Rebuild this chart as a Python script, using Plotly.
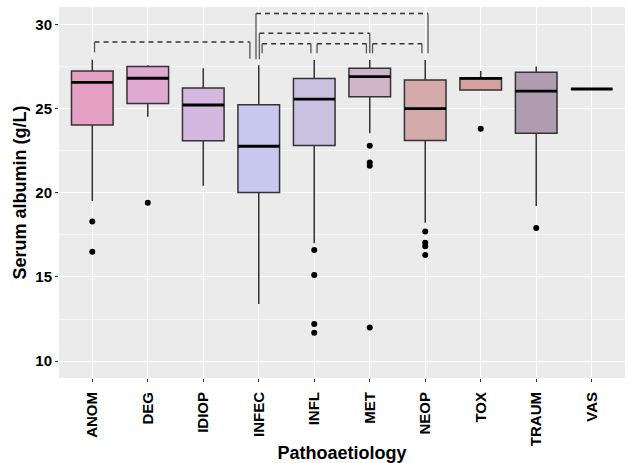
import plotly.graph_objects as go

categories = ["ANOM", "DEG", "IDIOP", "INFEC", "INFL", "MET", "NEOP", "TOX", "TRAUM", "VAS"]
upper_whisker = [27.9, 27.57, 27.39, 27.57, 27.88, 27.88, 27.88, 27.23, 27.5, 26.16]
q3_values     = [27.23, 27.5, 26.22, 25.23, 26.79, 27.39, 26.69, 26.83, 27.15, 26.16]
medians       = [26.56, 26.8, 25.21, 22.76, 25.56, 26.89, 25.0, 26.79, 26.04, 26.16]
q1_values     = [24.02, 25.3, 23.09, 20.02, 22.81, 25.7, 23.11, 26.1, 23.53, 26.16]
lower_whisker = [19.51, 24.51, 20.42, 13.39, 17.0, 23.53, 18.22, 26.1, 19.21, 26.16]
outliers = {
    "ANOM": [18.3, 16.5],
    "DEG": [19.4],
    "INFL": [16.6, 15.11, 12.2, 11.69],
    "MET": [22.79, 21.8, 21.6, 12.0],
    "NEOP": [17.7, 17.03, 16.83, 16.3],
    "TOX": [23.8],
    "TRAUM": [17.9],
}
fill_colors = ["#E6A0C4", "#DFA9D2", "#D4B8E0", "#C8C8F0", "#C8C2E0",
               "#D0B4CA", "#D4AAAA", "#D4A29C", "#B09CB0", "#B09CB0"]

# significance brackets: (left x, right x, bar height, left tip end, right tip end)
brackets = [
    (0.04, 2.84, 28.95, 28.34, 27.96),
    (2.95, 6.05, 30.65, 27.92, 28.28),
    (3.01, 5.00, 29.47, 27.92, 28.28),
    (3.06, 3.94, 28.85, 28.28, 28.28),
    (4.05, 4.94, 28.85, 28.28, 28.28),
    (5.05, 5.94, 28.85, 28.28, 28.28),
]

BOX_W = 0.75
fig = go.Figure()
for i, c in enumerate(categories):
    fig.add_trace(go.Box(
        x=[i], q1=[q1_values[i]], median=[medians[i]], q3=[q3_values[i]],
        lowerfence=[lower_whisker[i]], upperfence=[upper_whisker[i]],
        width=BOX_W, fillcolor=fill_colors[i],
        line=dict(color="#333333", width=1.5), whiskerwidth=0,
        boxpoints=False, showlegend=False, hoverinfo="skip",
    ))

# thicker median lines (ggplot fatten)
mx, my = [], []
for i, m in enumerate(medians):
    mx += [i - BOX_W / 2, i + BOX_W / 2, None]
    my += [m, m, None]
fig.add_trace(go.Scatter(x=mx, y=my, mode="lines", line=dict(color="black", width=2.8),
                         showlegend=False, hoverinfo="skip"))

ox, oy = [], []
for c, vals in outliers.items():
    i = categories.index(c)
    ox += [i] * len(vals)
    oy += vals
fig.add_trace(go.Scatter(x=ox, y=oy, mode="markers", marker=dict(color="black", size=6),
                         showlegend=False, hoverinfo="skip"))

for x1, x2, yt, yl, yr in brackets:
    fig.add_shape(type="line", x0=x1, x1=x2, y0=yt, y1=yt, xref="x", yref="y",
                  line=dict(color="#333333", width=1.5, dash="5px,4px"))
    fig.add_shape(type="line", x0=x1, x1=x1, y0=yt, y1=yl, xref="x", yref="y",
                  line=dict(color="#555555", width=1.3))
    fig.add_shape(type="line", x0=x2, x1=x2, y0=yt, y1=yr, xref="x", yref="y",
                  line=dict(color="#555555", width=1.3))

font_family = "Liberation Sans, Arial, sans-serif"
fig.update_layout(
    width=628, height=463,
    margin=dict(l=59, r=3, t=7, b=85),
    paper_bgcolor="white", plot_bgcolor="#EBEBEB",
    font=dict(family=font_family, color="black"),
    xaxis=dict(
        range=[-0.6, 9.6], tickmode="array", tickvals=list(range(len(categories))),
        ticktext=categories, tickangle=-90, automargin=False,
        tickfont=dict(size=15, color="black", weight="bold"),
        showgrid=True, gridcolor="white", gridwidth=1.1,
        ticks="outside", ticklen=3, tickcolor="#333333", tickwidth=1.1,
        ticklabelstandoff=4,
        zeroline=False, showline=False,
        title=dict(text="Pathoaetiology", font=dict(size=18, weight="bold"), standoff=6),
    ),
    yaxis=dict(
        range=[9.0, 31.03], tickvals=[10, 15, 20, 25, 30], automargin=False,
        tickfont=dict(size=15, color="black", weight="bold"),
        showgrid=True, gridcolor="white", gridwidth=1.1,
        minor=dict(tickvals=[12.5, 17.5, 22.5, 27.5], showgrid=True, gridcolor="#F5F5F5", gridwidth=0.6),
        ticks="outside", ticklen=3, tickcolor="#333333", tickwidth=1.1,
        zeroline=False, showline=False,
        title=dict(text="Serum albumin (g/L)", font=dict(size=18, weight="bold"), standoff=4),
    ),
)

fig.write_html("out.html")
